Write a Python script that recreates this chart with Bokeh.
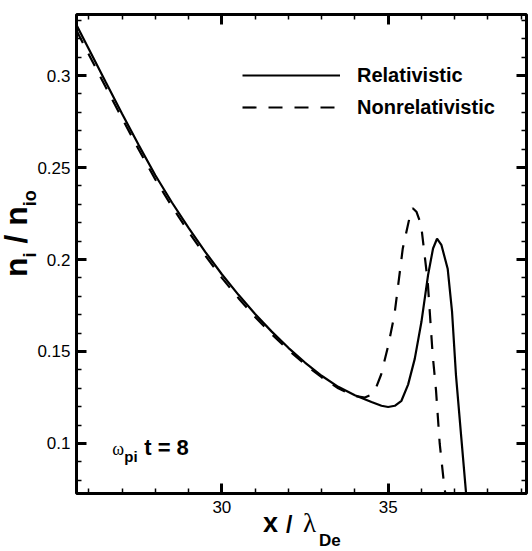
import numpy as np
from bokeh.plotting import figure
from bokeh.layouts import column, row
from bokeh.models import (Range1d, LinearAxis, SingleIntervalTicker,
                          CustomJSTickFormatter, Label, Legend, LegendItem, Div)
from bokeh.embed import file_html
from bokeh.resources import INLINE

# ---------------- data ----------------
x_rel = [25.63, 26.0, 26.5, 27.0, 27.5, 28.0, 28.5, 29.0, 29.5, 30.0, 30.5,
         31.0, 31.5, 32.0, 32.5, 33.0, 33.5, 34.0, 34.5, 34.8, 35.0, 35.2,
         35.4, 35.6, 35.8, 36.0, 36.2, 36.35, 36.47, 36.6, 36.79, 36.92,
         37.04, 37.2, 37.34]
y_rel = [0.3275, 0.3145, 0.2968, 0.2793, 0.2622, 0.2458, 0.2310, 0.2172,
         0.2042, 0.1920, 0.1808, 0.1704, 0.1608, 0.1520, 0.1440, 0.1368,
         0.1308, 0.1262, 0.1225, 0.1205, 0.1198, 0.1205, 0.1232, 0.1320,
         0.1460, 0.1660, 0.1915, 0.2060, 0.2113, 0.2080, 0.1950, 0.1720,
         0.1370, 0.1030, 0.0735]

x_non = [25.63, 26.0, 26.5, 27.0, 27.5, 28.0, 28.5, 29.0, 29.5, 30.0, 30.5,
         31.0, 31.5, 32.0, 32.5, 33.0, 33.5, 34.0, 34.3, 34.5, 34.65, 34.79,
         35.0, 35.19, 35.44, 35.64, 35.74, 35.85, 35.99, 36.19, 36.34, 36.44,
         36.55, 36.69, 36.72]
y_non = [0.3245, 0.3115, 0.2940, 0.2768, 0.2598, 0.2435, 0.2288, 0.2150,
         0.2022, 0.1900, 0.1790, 0.1688, 0.1594, 0.1508, 0.1430, 0.1360,
         0.1300, 0.1258, 0.1250, 0.1265, 0.1310, 0.1375, 0.1530, 0.1700,
         0.2060, 0.2225, 0.2279, 0.2260, 0.2190, 0.1880, 0.1480, 0.1288,
         0.1000, 0.0763, 0.0728]

series_labels = ["Relativistic", "Nonrelativistic"]
x_title_parts = ["x", "/", "\u03bb", "De"]
y_title_parts = ["n", "i", "/", "n", "io"]
note_parts = ["\u03c9", "pi", "t = 8"]
x_major_interval = 5
y_major_interval = 0.05

# ---------------- layout ----------------
X0, X1 = 25.63, 39.16
Y0, Y1 = 0.0728, 0.3332
TOTAL_W, TOTAL_H = 532, 551
YT_W = 34                     # width of the y-title strip
PW = TOTAL_W - YT_W           # main plot width
PH = 520                      # main plot height
FL, FT, FR, FB = 74, 14, 526, 493   # frame in page pixels
FONT = "Liberation Sans"
SERIF = "Liberation Serif"

p = figure(width=PW, height=PH, x_range=Range1d(X0, X1), y_range=Range1d(Y0, Y1),
           output_backend="svg", toolbar_location=None,
           min_border_left=FL - YT_W, min_border_right=TOTAL_W - FR,
           min_border_top=FT, min_border_bottom=PH - FB,
           background_fill_color=None, border_fill_color=None,
           outline_line_color="black", outline_line_width=3)
p.grid.visible = False


def dx(px):
    return X0 + (px - FL) * (X1 - X0) / (FR - FL)


def dy(py):
    return Y1 - (py - FT) * (Y1 - Y0) / (FB - FT)


xt = SingleIntervalTicker(interval=x_major_interval, num_minor_ticks=5)
yt = SingleIntervalTicker(interval=y_major_interval, num_minor_ticks=5)
yfmt = CustomJSTickFormatter(code="return String(Math.round(tick*100)/100);")
blank = CustomJSTickFormatter(code="return '';")


def style_axis(ax, labels=True):
    ax.axis_line_color = None
    ax.major_tick_in = 10
    ax.major_tick_out = 0
    ax.major_tick_line_width = 3
    ax.major_tick_line_color = "black"
    ax.minor_tick_in = 5
    ax.minor_tick_out = 0
    ax.minor_tick_line_width = 1.5
    ax.minor_tick_line_color = "black"
    if labels:
        ax.major_label_text_font = FONT
        ax.major_label_text_font_size = "17px"
        ax.major_label_text_color = "black"
    else:
        ax.formatter = blank
        ax.major_label_text_color = None
        ax.major_label_text_font_size = "8px"
        ax.major_label_standoff = 0


xb = p.xaxis[0]
xb.ticker = xt
style_axis(xb)
xb.major_label_standoff = 7

yl = p.yaxis[0]
yl.ticker = yt
yl.formatter = yfmt
style_axis(yl)
yl.major_label_standoff = 6

xa = LinearAxis(ticker=xt)
style_axis(xa, labels=False)
p.add_layout(xa, "above")

yr = LinearAxis(ticker=yt)
style_axis(yr, labels=False)
p.add_layout(yr, "right")

# ---------------- curves ----------------
r1 = p.line(x_rel, y_rel, line_color="black", line_width=2.2)
r2 = p.line(x_non, y_non, line_color="black", line_width=2.2, line_dash="14 12")

legend = Legend(items=[LegendItem(label=series_labels[0], renderers=[r1]),
                       LegendItem(label=series_labels[1], renderers=[r2])],
                location=(166, 370), glyph_width=98, glyph_height=32,
                label_height=32, label_standoff=17, spacing=0, padding=0,
                margin=0, border_line_color=None, background_fill_alpha=0,
                label_text_font=FONT, label_text_font_style="bold",
                label_text_font_size="20px", label_text_color="black")
p.add_layout(legend)

# annotation  omega_pi t = 8  (inside the frame)
for (px, py, size, font, style), txt in zip(
        [(110, 448, "18px", SERIF, "normal"),
         (122, 456, "15px", FONT, "bold"),
         (142, 447, "22px", FONT, "bold")], note_parts):
    p.add_layout(Label(x=dx(px), y=dy(py), text=txt, text_font=font,
                       text_font_size=size, text_font_style=style,
                       text_color="black", text_baseline="alphabetic"))

# ---------------- y-axis title (HTML text, rotated with CSS) ----------------
SANS_CSS = "font-family:Liberation Sans,Arial,sans-serif;"
SERIF_CSS = "font-family:Liberation Serif,Times New Roman,serif;"
sub = '<span style="font-size:18px;position:relative;top:9px;">{}</span>'
n1, s1, sl, n2, s2 = y_title_parts
ytitle_html = (
    f'<div style="position:relative;width:{YT_W}px;height:{PH}px;">'
    f'<div style="position:absolute;left:0px;top:277px;transform-origin:0 0;'
    f'transform:rotate(-90deg);white-space:nowrap;{SANS_CSS}font-weight:bold;'
    f'font-size:32px;line-height:32px;color:black;">'
    f'{n1}{sub.format(s1)} {sl} {n2}{sub.format(s2)}</div></div>')
ydiv = Div(text=ytitle_html, width=YT_W, height=PH, margin=0)

# ---------------- x-axis title (HTML text) ----------------
XT_H = TOTAL_H - PH


def span(left, baseline_page_y, size, css, bold, txt):
    asc = 0.847 if "Sans" in css else 0.8375
    top = baseline_page_y - asc * size - PH
    w = "bold" if bold else "normal"
    return (f'<span style="position:absolute;left:{left}px;top:{top:.1f}px;'
            f'{css}font-weight:{w};font-size:{size}px;line-height:{size}px;'
            f'white-space:nowrap;color:black;">{txt}</span>')


xs, xsl, xl, xde = x_title_parts
xtitle_html = (
    f'<div style="position:relative;width:{TOTAL_W}px;height:{XT_H}px;">'
    + span(263, 533, 27, SANS_CSS, True, xs)
    + span(286, 533, 23, SANS_CSS, True, xsl)
    + span(303, 533, 27, SERIF_CSS, False, xl)
    + span(319, 546, 17, SANS_CSS, True, xde)
    + "</div>")
xdiv = Div(text=xtitle_html, width=TOTAL_W, height=XT_H, margin=0)

layout = column(row(ydiv, p, spacing=0), xdiv, spacing=0)
open("out.html", "w").write(file_html(layout, INLINE))
